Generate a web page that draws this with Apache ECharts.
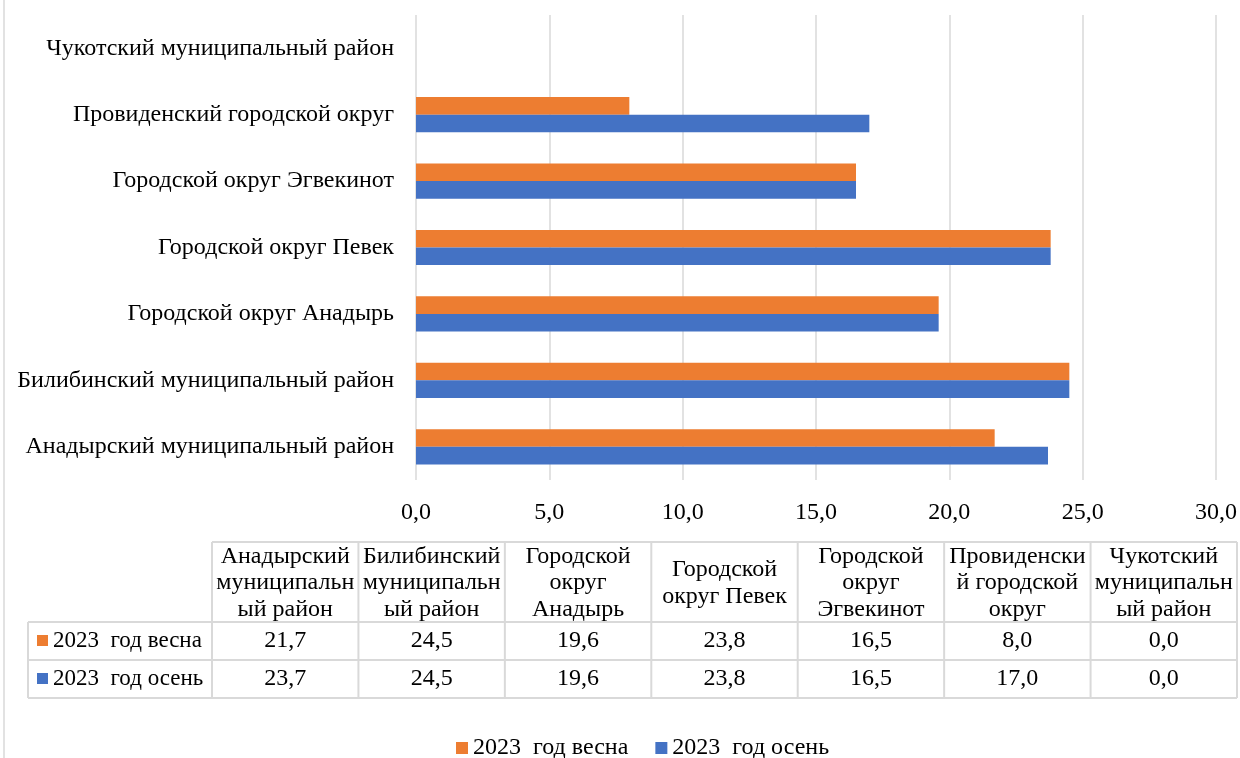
<!DOCTYPE html>
<html>
<head>
<meta charset="utf-8">
<script src="https://cdn.jsdelivr.net/npm/echarts@6/dist/echarts.min.js"></script>
<style>
  html, body { margin: 0; padding: 0; background: #fff; }
  #chart { width: 1240px; height: 758px; }
</style>
</head>
<body>
<div id="chart"></div>
<script>
// категории (снизу вверх, как на оси)
const districts = [
  'Анадырский муниципальный район',
  'Билибинский муниципальный район',
  'Городской округ Анадырь',
  'Городской округ Певек',
  'Городской округ Эгвекинот',
  'Провиденский городской округ',
  'Чукотский муниципальный район'
];
// заголовки таблицы данных (с переносами как в Excel)
const tableHeaders = [
  'Анадырский\nмуниципальн\nый район',
  'Билибинский\nмуниципальн\nый район',
  'Городской\nокруг\nАнадырь',
  'Городской\nокруг Певек',
  'Городской\nокруг\nЭгвекинот',
  'Провиденски\nй городской\nокруг',
  'Чукотский\nмуниципальн\nый район'
];
const seriesNames = ['2023  год весна', '2023  год осень'];
const spring = [21.7, 24.5, 19.6, 23.8, 16.5, 8.0, 0.0];
const autumn = [23.7, 24.5, 19.6, 23.8, 16.5, 17.0, 0.0];
const colors = ['#ED7D31', '#4472C4'];

const FONT = 'Liberation Serif';
const FS = 24;
const fmt = v => v.toFixed(1).replace('.', ',');

// таблица под графиком
const tbl = { left: 212, right: 1237, rowHeadLeft: 28, top: 542, headH: 80, rowH: 38 };
const colW = (tbl.right - tbl.left) / districts.length;
const line = '#d9d9d9';
let graphic = [];

const rowsData = [spring, autumn];
const bodyTop = tbl.top + tbl.headH;
const bodyBottom = bodyTop + tbl.rowH * rowsData.length;

// горизонтальные линии
graphic.push({ type: 'line', shape: { x1: tbl.left, y1: tbl.top, x2: tbl.right, y2: tbl.top }, style: { stroke: line, lineWidth: 2 } });
for (let r = 0; r <= rowsData.length; r++) {
  const y = bodyTop + r * tbl.rowH;
  graphic.push({ type: 'line', shape: { x1: tbl.rowHeadLeft, y1: y, x2: tbl.right, y2: y }, style: { stroke: line, lineWidth: 2 } });
}
// вертикальные линии
graphic.push({ type: 'line', shape: { x1: tbl.rowHeadLeft, y1: bodyTop, x2: tbl.rowHeadLeft, y2: bodyBottom }, style: { stroke: line, lineWidth: 2 } });
for (let c = 0; c <= districts.length; c++) {
  const x = tbl.left + c * colW;
  graphic.push({ type: 'line', shape: { x1: x, y1: tbl.top, x2: x, y2: bodyBottom }, style: { stroke: line, lineWidth: 2 } });
}
// заголовки колонок
tableHeaders.forEach((h, c) => {
  graphic.push({
    type: 'text',
    style: {
      text: h, x: tbl.left + (c + 0.5) * colW, y: tbl.top + tbl.headH / 2 + 1,
      align: 'center', verticalAlign: 'middle', lineHeight: 26.5,
      fontSize: FS, fontFamily: FONT, fill: '#000'
    }
  });
});
// строки
rowsData.forEach((arr, r) => {
  const yc = bodyTop + (r + 0.5) * tbl.rowH;
  graphic.push({ type: 'rect', shape: { x: 37, y: yc - 6, width: 11, height: 11 }, style: { fill: colors[r] } });
  graphic.push({
    type: 'text',
    style: { text: seriesNames[r], x: 53, y: yc, align: 'left', verticalAlign: 'middle', fontSize: 23, fontFamily: FONT, fill: '#000' }
  });
  arr.forEach((v, c) => {
    graphic.push({
      type: 'text',
      style: { text: fmt(v), x: tbl.left + (c + 0.5) * colW, y: yc, align: 'center', verticalAlign: 'middle', fontSize: FS, fontFamily: FONT, fill: '#000' }
    });
  });
});
// рамка области диаграммы слева
graphic.push({ type: 'line', shape: { x1: 4, y1: 0, x2: 4, y2: 758 }, style: { stroke: line, lineWidth: 1.5 } });

const chart = echarts.init(document.getElementById('chart'));
chart.setOption({
  animation: false,
  textStyle: { fontFamily: FONT },
  grid: { left: 416, right: 23, top: 15, bottom: 278, containLabel: false },
  legend: {
    bottom: -7,
    left: 451,
    icon: 'rect',
    itemWidth: 12,
    itemHeight: 12,
    itemGap: 27,
    data: seriesNames,
    textStyle: { fontSize: FS, fontFamily: FONT, color: '#000' }
  },
  xAxis: {
    type: 'value',
    min: 0,
    max: 30,
    interval: 5,
    axisLine: { show: false },
    axisTick: { show: false },
    splitLine: { show: true, lineStyle: { color: line, width: 1.5 } },
    axisLabel: { formatter: fmt, fontSize: FS, fontFamily: FONT, color: '#000', margin: 21 }
  },
  yAxis: {
    type: 'category',
    data: districts,
    axisLine: { show: false },
    axisTick: { show: false },
    axisLabel: { fontSize: FS, fontFamily: FONT, color: '#000', margin: 22 }
  },
  series: [
    { name: seriesNames[0], type: 'bar', data: spring, itemStyle: { color: colors[0] }, barGap: '0%', barCategoryGap: '47%' },
    { name: seriesNames[1], type: 'bar', data: autumn, itemStyle: { color: colors[1] }, barGap: '0%', barCategoryGap: '47%' }
  ],
  graphic: graphic
});
</script>
</body>
</html>
